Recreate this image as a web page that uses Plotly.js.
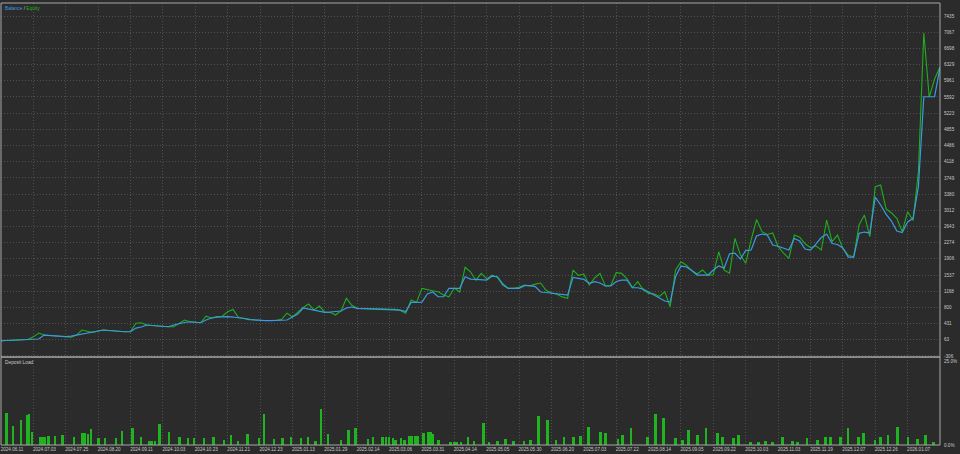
<!DOCTYPE html>
<html>
<head>
<meta charset="utf-8">
<script src="https://cdn.plot.ly/plotly-3.0.1.min.js"></script>
<style>html,body{margin:0;padding:0;background:#2b2b2b;}#chart{width:960px;height:454px;}</style>
</head>
<body>
<div id="chart"></div>
<script>
// x tick labels (one every 6 deals)
const dateLabels = ["2024.06.11","2024.07.03","2024.07.25","2024.08.20","2024.09.11","2024.10.03","2024.10.23","2024.11.21","2024.12.23","2025.01.13","2025.01.29","2025.02.14","2025.03.06","2025.03.31","2025.04.14","2025.05.05","2025.05.30","2025.06.20","2025.07.03","2025.07.22","2025.08.14","2025.09.05","2025.09.22","2025.10.03","2025.11.03","2025.11.19","2025.12.07","2025.12.26","2026.01.07"];
const priceLabels = ["-306","63","431","800","1168","1537","1906","2274","2643","3012","3380","3749","4118","4486","4855","5223","5592","5961","6329","6698","7067","7435"];
const loadLabels = ["0.0%","25.0%"];
const loadTickVals = [0,25];

const balance = [41,46,50,57,62,68,73,80,171,160,148,142,133,148,171,194,217,228,262,285,
274,262,255,246,246,330,353,399,388,376,365,360,399,433,456,474,463,451,513,558,
581,588,588,581,569,547,524,513,508,501,497,501,508,513,581,649,786,763,740,718,
688,695,706,718,786,809,779,774,770,768,763,763,758,756,740,706,915,915,922,1105,
1150,1043,1043,1234,1234,1234,1499,1446,1439,1430,1423,1514,1499,1332,1234,1234,1234,1294,1294,1275,
1150,1139,1127,1111,1098,1082,1485,1458,1439,1348,1385,1355,1287,1287,1389,1423,1423,1248,1248,1218,
1150,1082,1025,945,922,1499,1742,1720,1640,1537,1537,1537,1651,1742,1690,2022,2038,1901,2095,2106,
2425,2471,2448,2220,2193,2141,2106,2369,2311,2129,2106,2243,2391,2471,2255,2232,2152,1947,1947,2487,
2516,2494,3313,3131,2926,2767,2539,2505,2744,2828,3548,5597,5597,5597,6262];

const equity = [41,46,50,57,62,70,130,217,171,165,150,142,133,120,171,285,260,228,262,285,
274,262,255,246,250,440,450,399,388,376,365,360,360,433,513,474,463,451,600,558,
590,600,700,755,569,547,524,513,508,501,497,501,530,670,581,700,800,877,740,831,
688,690,626,718,1006,850,779,774,770,768,763,770,758,756,730,665,968,915,1234,1200,
1180,1157,1082,1043,1241,1150,1712,1612,1420,1575,1450,1537,1480,1300,1234,1234,1260,1310,1290,1330,
1355,1190,1130,1100,1040,1006,1651,1530,1560,1310,1470,1575,1290,1300,1590,1575,1450,1250,1385,1200,
1120,1110,1050,1157,815,1651,1840,1760,1640,1560,1651,1530,1550,2067,1650,1580,2372,2000,1804,2334,
2800,2524,2460,2494,2190,2038,1917,2448,2400,2250,2160,2200,2106,2790,2296,2448,2140,1990,1950,2676,
2903,2410,3548,3587,3050,2950,2830,2524,2978,2780,3890,7048,5590,6000,6280];

// Deposit load bars: deal position and load (%)
const loadPos = [1.0,2.2,3.7,4.8,5.2,5.7,7.3,7.7,8.2,8.8,10.0,11.4,13.5,15.1,15.6,16.1,16.7,18.1,19.3,21.3,
22.4,24.4,25.9,27.4,27.9,28.5,29.4,31.1,33.1,34.6,35.8,37.6,39.4,41.3,42.6,43.9,45.7,47.8,48.7,50.6,
52.2,53.7,55.6,56.9,58.3,59.3,60.6,63.0,64.4,65.7,68.0,68.9,70.7,71.3,71.9,72.6,73.1,74.1,74.8,75.6,
76.1,76.7,77.2,78.3,79.1,79.6,80.0,81.1,83.3,83.9,84.4,85.2,86.5,87.6,89.4,90.4,92.0,93.5,95.0,96.9,
98.1,99.6,101.3,102.8,104.3,106.1,107.4,108.9,111.1,112.0,114.3,115.2,116.7,119.8,121.3,122.8,125.0,126.3,127.4,129.1,
130.6,132.8,133.7,135.7,136.7,138.9,140.4,141.7,143.0,144.8,146.7,147.6,149.4,151.3,152.8,153.7,155.6,156.9,158.9,159.8,
162.0,163.0,164.4,166.1,168.1,169.8,171.3,172.8];
const loadPct = [9.5,5.7,7.4,8.9,9.2,3.9,2.4,2.4,2.4,2.7,2.7,3.0,2.3,3.5,3.5,3.4,4.7,2.0,2.0,2.0,
4.2,5.1,2.5,1.3,1.3,1.3,6.3,4.0,2.5,2.2,2.2,2.0,2.5,1.5,3.0,1.2,3.3,2.0,9.2,1.8,
2.0,2.4,2.0,2.5,1.2,10.7,3.3,1.5,4.5,5.0,1.8,2.4,2.5,2.5,2.5,2.2,1.6,2.0,1.5,2.8,
2.8,2.8,2.8,3.5,3.8,4.0,3.3,1.5,0.9,0.9,0.9,0.9,2.5,1.2,6.5,1.0,1.2,1.8,1.2,1.2,
1.5,8.5,7.5,1.5,2.5,2.5,2.8,5.5,4.0,3.5,1.8,3.0,5.0,2.5,9.3,8.0,2.2,1.5,4.5,3.0,
5.0,3.5,2.5,2.0,3.0,1.0,1.0,1.2,1.0,2.5,1.2,1.0,2.0,1.5,2.5,2.5,2.5,5.0,2.5,3.5,
1.5,2.5,3.0,5.5,2.5,1.8,3.0,0.9];

const idx = balance.map((_, i) => i);
const xTickVals = dateLabels.map((_, k) => k * 6);
const yTickVals = priceLabels.map(Number);

const traces = [
  {x: idx, y: equity, type: 'scatter', mode: 'lines', xaxis: 'x', yaxis: 'y',
   line: {color: '#1fae1f', width: 1.1}, hoverinfo: 'skip'},
  {x: idx, y: balance, type: 'scatter', mode: 'lines', xaxis: 'x', yaxis: 'y',
   line: {color: '#3a9be2', width: 1.2}, hoverinfo: 'skip'},
  {x: loadPos, y: loadPct, type: 'bar', xaxis: 'x', yaxis: 'y2', width: 0.45,
   marker: {color: '#1fb41f', line: {width: 0}}, hoverinfo: 'skip'}
];

const grid = '#505050';
const gdash = '1px,2px';
const txt = '#c8c8c8';
const fnt = 'Liberation Sans, Arial, sans-serif';
const split = 0.199;

const layout = {
  width: 960, height: 454,
  paper_bgcolor: '#2b2b2b', plot_bgcolor: '#2b2b2b',
  margin: {l: 1, r: 20, t: 3, b: 9, pad: 0},
  showlegend: false,
  font: {family: fnt, size: 4.6, color: txt},
  xaxis: {range: [0, 174], anchor: 'y2', tickmode: 'array', tickvals: xTickVals, ticktext: dateLabels,
    tickfont: {family: fnt, size: 4.6, color: txt}, ticks: '', showgrid: true, gridcolor: grid,
    griddash: gdash, gridwidth: 1, zeroline: false, showline: false,
    ticklabelshift: 11, ticklabelstandoff: 0, fixedrange: true},
  yaxis: {domain: [split, 1], range: [-330, 7731], side: 'right', anchor: 'x', tickmode: 'array',
    tickvals: yTickVals, ticktext: priceLabels, tickfont: {family: fnt, size: 4.6, color: txt},
    showgrid: true, gridcolor: grid, griddash: gdash, zeroline: false, ticks: '',
    ticklabelstandoff: 3, showline: false, fixedrange: true},
  yaxis2: {domain: [0, split], range: [0, 26.2], side: 'right', anchor: 'x', tickmode: 'array',
    tickvals: loadTickVals, ticktext: loadLabels, tickfont: {family: fnt, size: 4.6, color: txt},
    showgrid: false, zeroline: false, ticks: '', ticklabelstandoff: 3, showline: false, fixedrange: true},
  bargap: 0,
  shapes: [
    {type: 'rect', xref: 'paper', yref: 'paper', x0: 0, x1: 1, y0: split, y1: 1,
     line: {color: '#a8a8a8', width: 1}, fillcolor: 'rgba(0,0,0,0)'},
    {type: 'rect', xref: 'paper', yref: 'paper', x0: 0, x1: 1, y0: 0, y1: split,
     line: {color: '#a8a8a8', width: 1}, fillcolor: 'rgba(0,0,0,0)'}
  ],
  annotations: [
    {xref: 'paper', yref: 'paper', x: 0.002, y: 0.997, xanchor: 'left', yanchor: 'top', showarrow: false,
     text: '<span style="color:#3a9be2">Balance</span> / <span style="color:#1fae1f">Equity</span>',
     font: {family: fnt, size: 4.8, color: txt}},
    {xref: 'paper', yref: 'paper', x: 0.002, y: split - 0.003, xanchor: 'left', yanchor: 'top', showarrow: false,
     text: 'Deposit Load', font: {family: fnt, size: 4.8, color: txt}}
  ]
};

Plotly.newPlot('chart', traces, layout, {displayModeBar: false, staticPlot: true});
</script>
</body>
</html>
